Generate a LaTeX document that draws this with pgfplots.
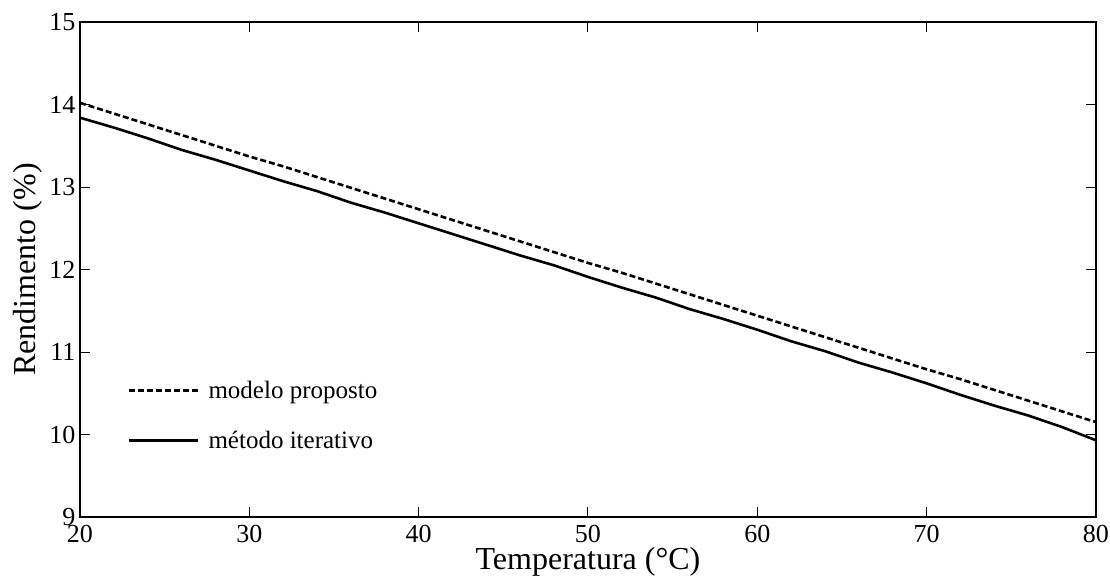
\documentclass[border=0pt]{standalone}
\usepackage{fontspec}
\setmainfont{Liberation Serif}
\usepackage{pgfplots}
\pgfplotsset{compat=1.18}

\begin{document}
\begin{tikzpicture}
\useasboundingbox (-80pt,-62pt) rectangle (1030pt,517pt);
\begin{axis}[
  at={(0pt,0pt)}, anchor=south west,
  scale only axis,
  width=1016pt, height=495pt,
  xmin=20, xmax=80, ymin=9, ymax=15,
  xtick={20,30,...,80}, ytick={9,10,...,15},
  /pgf/number format/assume math mode=true,
  tick align=inside,
  major tick length=10pt,
  axis line style={line width=1.2pt},
  every tick/.style={black, line width=1pt},
  xticklabel style={font=\fontsize{26}{30}\selectfont, yshift=-5pt},
  yticklabel style={font=\fontsize{26}{30}\selectfont, xshift=-1pt},
  xlabel={Temperatura (°C)},
  ylabel={Rendimento (\%)},
  label style={font=\fontsize{32}{38}\selectfont},
  xlabel style={yshift=3pt},
  ylabel style={yshift=0pt},
  legend style={draw=none, fill=none, at={(0.044,0.205)}, anchor=west,
    font=\fontsize{25}{29}\selectfont, row sep=27pt,
    /tikz/every odd column/.append style={column sep=7pt}},
  legend cell align=left,
  legend image code/.code={\draw[#1] (0pt,0pt) -- (69pt,0pt);},
]
% proposed model
\addplot[black, line width=2.6pt, dash pattern=on 6pt off 3pt] coordinates {
(20,14.02) (22,13.89) (24,13.76) (26,13.63) (28,13.50) (30,13.37)
(32,13.25) (34,13.12) (36,12.99) (38,12.86) (40,12.73) (42,12.60)
(44,12.47) (46,12.34) (48,12.21) (50,12.08) (52,11.96) (54,11.83)
(56,11.70) (58,11.57) (60,11.44) (62,11.31) (64,11.18) (66,11.05)
(68,10.92) (70,10.79) (72,10.67) (74,10.54) (76,10.41) (78,10.28)
(80,10.15)};
\addlegendentry{modelo proposto}
% iterative method
\addplot[black, line width=2.6pt] coordinates {
(20,13.84) (22,13.72) (24,13.59) (26,13.45) (28,13.33) (30,13.20)
(32,13.07) (34,12.95) (36,12.81) (38,12.69) (40,12.56) (42,12.43)
(44,12.30) (46,12.17) (48,12.05) (50,11.91) (52,11.78) (54,11.66)
(56,11.52) (58,11.40) (60,11.27) (62,11.13) (64,11.01) (66,10.87)
(68,10.75) (70,10.62) (72,10.48) (74,10.35) (76,10.23) (78,10.09)
(80,9.93)};
\addlegendentry{método iterativo}
\end{axis}
\end{tikzpicture}
\end{document}
